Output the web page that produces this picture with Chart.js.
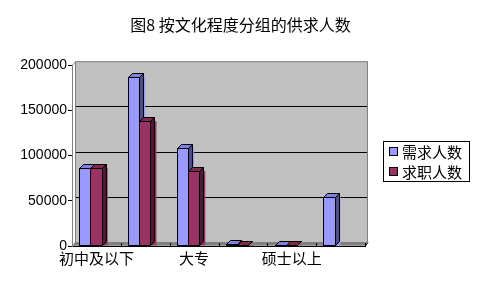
<!DOCTYPE html>
<html><head><meta charset="utf-8">
<script src="https://cdn.jsdelivr.net/npm/chart.js@4/dist/chart.umd.min.js"></script>
<style>html,body{margin:0;padding:0;background:#fff}#wrap{width:481px;height:287px;position:relative}</style>
</head><body><div id="wrap"><canvas id="c" width="481" height="287"></canvas></div>
<script>
const categories = ['初中及以下', '高中', '大专', '大学', '硕士以上', '无要求'];
const demand = [86000, 187000, 108000, 2000, 1000, 54000];
const seekers = [86000, 138000, 83000, 1200, 800, 0];
const seriesNames = ['需求人数', '求职人数'];
const yTicks = [0, 50000, 100000, 150000, 200000];
const titleText = '图8 按文化程度分组的供求人数';

const CJK = '"Noto Sans CJK SC", sans-serif';
const D = 4;      // bar depth
const WX = 3, WY = 4;   // wall offset (depth of the floor)
const BAR_SHIFT = -6;

const bg3d = {
  id: 'bg3d',
  beforeDraw(chart) {
    const a = chart.chartArea, ctx = chart.ctx, ys = chart.scales.y;
    ctx.save();
    const L = a.left + WX, R = a.right + WX, T = a.top - WY, B = a.bottom - WY;
    ctx.fillStyle = '#C0C0C0';
    ctx.fillRect(L, T, R - L, B - T);
    ctx.strokeStyle = '#000'; ctx.lineWidth = 1;
    yTicks.forEach(v => {
      if (v === 0 || v === 200000) return;
      const y = Math.round(ys.getPixelForValue(v) - WY) + 0.5;
      ctx.beginPath(); ctx.moveTo(L, y); ctx.lineTo(R, y); ctx.stroke();
    });
    ctx.strokeStyle = '#808080';
    ctx.beginPath(); ctx.moveTo(L + 0.5, B); ctx.lineTo(L + 0.5, T + 0.5); ctx.lineTo(R - 0.5, T + 0.5); ctx.lineTo(R - 0.5, B); ctx.stroke();
    ctx.beginPath(); ctx.moveTo(a.left + 0.5, a.top); ctx.lineTo(L + 0.5, T + 0.5); ctx.stroke();
    ctx.fillStyle = '#808080';
    ctx.beginPath();
    ctx.moveTo(L, B); ctx.lineTo(R, B); ctx.lineTo(a.right, a.bottom); ctx.lineTo(a.left, a.bottom);
    ctx.closePath(); ctx.fill();
    ctx.fillStyle = '#A0A0A0';
    ctx.fillRect(a.left, a.bottom - 1, a.right - a.left, 1);
    ctx.strokeStyle = '#000';
    ctx.beginPath(); ctx.moveTo(a.left, a.bottom + 0.5); ctx.lineTo(a.right, a.bottom + 0.5); ctx.lineTo(R, B + 0.5); ctx.stroke();
    for (let i = 0; i <= categories.length; i++) {
      const x = Math.round(a.left + (a.right - a.left) * i / categories.length) + 0.5;
      ctx.beginPath(); ctx.moveTo(x, a.bottom - 3); ctx.lineTo(x, a.bottom + 1); ctx.stroke();
    }
    ctx.restore();
  },
  afterDatasetsDraw(chart) {
    const ctx = chart.ctx;
    const sides = ['#4D4D8C', '#4D1A33'];
    const tops = ['#8080E0', '#80284F'];
    ctx.save();
    ctx.strokeStyle = '#000'; ctx.lineWidth = 1;
    chart.data.datasets.forEach((ds, di) => {
      const meta = chart.getDatasetMeta(di);
      meta.data.forEach((el, i) => {
        if (!ds.data[i]) return;
        const p = el.getProps(['x', 'y', 'base', 'width'], true);
        const cx = p.x + BAR_SHIFT;
        const l = Math.round(cx - p.width / 2) + 0.5, r = Math.round(cx + p.width / 2) + 0.5;
        const t = Math.round(p.y) + 0.5, b = Math.round(p.base) - 0.5;
        ctx.fillStyle = sides[di];
        ctx.beginPath(); ctx.moveTo(r, t); ctx.lineTo(r + D, t - D); ctx.lineTo(r + D, b - D); ctx.lineTo(r, b); ctx.closePath(); ctx.fill(); ctx.stroke();
        ctx.fillStyle = tops[di];
        ctx.beginPath(); ctx.moveTo(l, t); ctx.lineTo(l + D, t - D); ctx.lineTo(r + D, t - D); ctx.lineTo(r, t); ctx.closePath(); ctx.fill(); ctx.stroke();
        ctx.fillStyle = ds.backgroundColor;
        ctx.fillRect(l, t, r - l, b - t);
        ctx.strokeRect(l, t, r - l, b - t);
      });
    });
    ctx.restore();
  },
  afterDraw(chart) {
    const ctx = chart.ctx;
    ctx.save();
    const bx = 383.5, by = 141.5, bw = 86, bh = 40;
    ctx.strokeStyle = '#000'; ctx.lineWidth = 1;
    ctx.strokeRect(bx, by, bw, bh);
    ctx.font = '15px ' + CJK;
    ctx.textBaseline = 'middle';
    chart.data.datasets.forEach((ds, i) => {
      const cy = 152 + i * 20;
      ctx.fillStyle = ds.backgroundColor;
      ctx.fillRect(390, cy - 4, 7, 7);
      ctx.strokeRect(389.5, cy - 4.5, 8, 8);
      ctx.fillStyle = '#000';
      ctx.fillText(ds.label, 402, cy);
    });
    ctx.restore();
  }
};

new Chart(document.getElementById('c'), {
  type: 'bar',
  data: {
    labels: categories,
    datasets: [
      { label: seriesNames[0], data: demand, backgroundColor: '#9999FF' },
      { label: seriesNames[1], data: seekers, backgroundColor: '#993366' }
    ]
  },
  options: {
    responsive: false, animation: false, devicePixelRatio: 1,
    layout: { padding: { left: 0, right: 0, top: 0, bottom: 17 } },
    datasets: { bar: { categoryPercentage: 0.46, barPercentage: 1.0, borderWidth: 0, backgroundColor: 'rgba(0,0,0,0)' } },
    plugins: {
      legend: { display: false },
      tooltip: { enabled: false },
      title: { display: true, text: titleText, color: '#000', font: { family: CJK, size: 16, weight: 'normal' }, padding: { top: 15, bottom: 31 } }
    },
    scales: {
      x: {
        grid: { display: false, drawTicks: false },
        border: { display: false },
        ticks: {
          color: '#000', font: { family: CJK, size: 15 }, maxRotation: 0, autoSkip: false, padding: 3,
          callback: function (v, i) { return i % 2 === 0 ? categories[i] : ''; }
        }
      },
      y: {
        min: 0, max: 200000,
        afterFit(s) { s.width = 72; },
        afterBuildTicks(s) { s.ticks = yTicks.map(v => ({ value: v })); },
        grid: { drawOnChartArea: false, color: '#000', lineWidth: 1, tickLength: 4, tickColor: '#000' },
        border: { display: true, color: '#808080' },
        ticks: { color: '#000', font: { family: '"Liberation Sans", Arial, sans-serif', size: 14 }, padding: 1,
          callback: v => String(v) }
      },
      yRight: {
        type: 'linear', position: 'right', display: true,
        afterFit(s) { s.width = 116; },
        grid: { display: false, drawTicks: false },
        border: { display: false },
        ticks: { display: false }
      }
    }
  },
  plugins: [bg3d]
});
</script>
</body></html>
